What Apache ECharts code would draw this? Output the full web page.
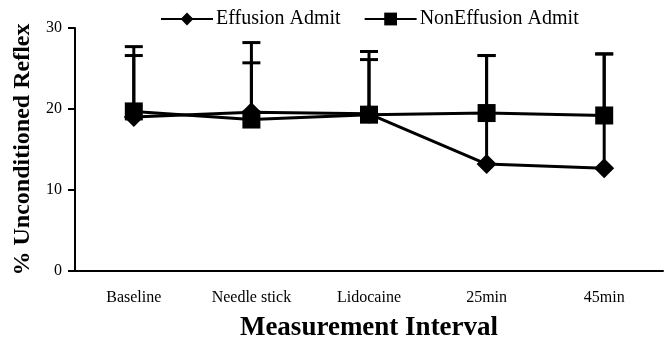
<!DOCTYPE html>
<html>
<head>
<meta charset="utf-8">
<script src="https://cdn.jsdelivr.net/npm/echarts@6/dist/echarts.min.js"></script>
<style>
  html, body { margin: 0; padding: 0; background: #fff; }
  #chart { width: 669px; height: 343px; }
</style>
</head>
<body>
<div id="chart"></div>
<script>
const categories = ["Baseline", "Needle stick", "Lidocaine", "25min", "45min"];
const effusionMean = [19.0, 19.6, 19.4, 13.2, 12.7];
const effusionSd = [7.6, 6.1, 6.7, 13.4, 14.1];
const nonEffusionMean = [19.7, 18.7, 19.3, 19.5, 19.2];
const nonEffusionSd = [8.0, 9.5, 7.8, 7.1, 7.6];
const yTicks = [0, 10, 20, 30];

const font = "Liberation Serif";

// upper-only error bars with a cap
const errorBar = (means, sds) => ({
  type: "custom",
  silent: true,
  z: 1,
  data: means.map((m, i) => [i, m, m + sds[i]]),
  renderItem: (params, api) => {
    const base = api.coord([api.value(0), api.value(1)]);
    const top = api.coord([api.value(0), api.value(2)]);
    const half = 9;
    const style = { stroke: "#000", lineWidth: 3 };
    return {
      type: "group",
      children: [
        { type: "line", shape: { x1: base[0], y1: base[1], x2: top[0], y2: top[1] }, style },
        { type: "line", shape: { x1: top[0] - half, y1: top[1], x2: top[0] + half, y2: top[1] }, style }
      ]
    };
  }
});

const chart = echarts.init(document.getElementById("chart"));
chart.setOption({
  animation: false,
  textStyle: { fontFamily: font, color: "#000" },
  grid: { top: 28, left: 75, right: 6, bottom: 72, containLabel: false, outerBoundsMode: "none" },
  legend: {
    top: 4,
    left: 155,
    itemWidth: 52,
    itemHeight: 16,
    itemGap: 23,
    textStyle: { fontFamily: font, fontSize: 20, color: "#000", padding: [0, 0, 0, -2] },
    data: ["Effusion Admit", "NonEffusion Admit"]
  },
  xAxis: {
    type: "category",
    data: categories,
    name: "Measurement Interval",
    nameLocation: "middle",
    nameGap: 44,
    nameTextStyle: { fontFamily: font, fontSize: 27, fontWeight: "bold", color: "#000" },
    axisLine: { lineStyle: { color: "#000", width: 2 } },
    axisTick: { show: false },
    axisLabel: { margin: 19, fontSize: 16, color: "#000", fontFamily: font }
  },
  yAxis: {
    type: "value",
    min: yTicks[0],
    max: yTicks[yTicks.length - 1],
    interval: 10,
    name: "% Unconditioned Reflex",
    nameLocation: "middle",
    nameGap: 40,
    nameTextStyle: { fontFamily: font, fontSize: 24, fontWeight: "bold", color: "#000" },
    axisLine: { show: true, lineStyle: { color: "#000", width: 2 } },
    axisTick: { show: true, length: 7, lineStyle: { color: "#000", width: 2 } },
    axisLabel: { margin: 13, fontSize: 16, color: "#000", fontFamily: font },
    splitLine: { show: false }
  },
  series: [
    errorBar(effusionMean, effusionSd),
    errorBar(nonEffusionMean, nonEffusionSd),
    {
      name: "Effusion Admit",
      type: "line",
      z: 3,
      data: effusionMean,
      symbol: "diamond",
      symbolSize: 20,
      itemStyle: { color: "#000" },
      lineStyle: { color: "#000", width: 3 }
    },
    {
      name: "NonEffusion Admit",
      type: "line",
      z: 3,
      data: nonEffusionMean,
      symbol: "rect",
      symbolSize: 18,
      itemStyle: { color: "#000" },
      lineStyle: { color: "#000", width: 3 }
    }
  ]
});
</script>
</body>
</html>
